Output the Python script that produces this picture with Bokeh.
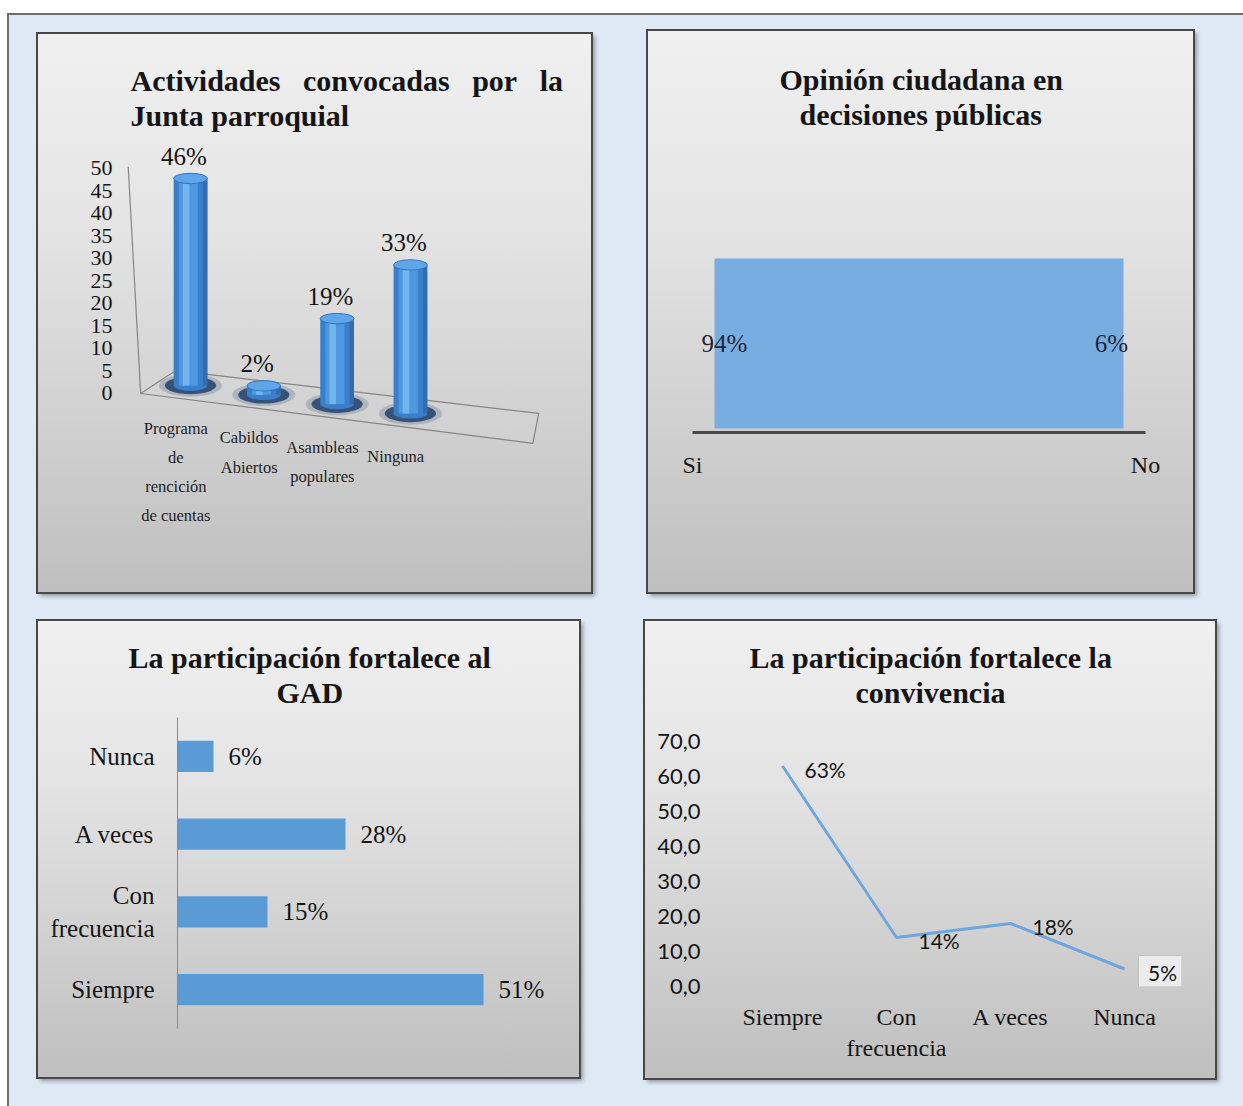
import numpy as np
from bokeh.plotting import figure
from bokeh.models import FixedTicker, Title, Range1d
from bokeh.layouts import row, column
from bokeh.core.properties import value
from bokeh.embed import file_html
from bokeh.resources import INLINE

# ------------------------------------------------------------------ data
act_title = ["Actividades\u00a0\u00a0\u00a0convocadas\u00a0\u00a0\u00a0por\u00a0\u00a0\u00a0la", "Junta parroquial"]
act_categories = ["Programa\nde\nrencición\nde cuentas", "Cabildos\nAbiertos", "Asambleas\npopulares", "Ninguna"]
act_values = [46, 2, 19, 33]
act_yticks = [0, 5, 10, 15, 20, 25, 30, 35, 40, 45, 50]

op_title = ["Opinión ciudadana en", "decisiones públicas"]
op_categories = ["Si", "No"]
op_values = [94, 6]

gad_title = ["La participación fortalece al", "GAD"]
gad_categories = ["Siempre", "Con\nfrecuencia", "A veces", "Nunca"]
gad_values = [51, 15, 28, 6]

conv_title = ["La participación fortalece la", "convivencia"]
conv_categories = ["Siempre", "Con\nfrecuencia", "A veces", "Nunca"]
conv_values = [63, 14, 18, 5]
conv_yticks = [0, 10, 20, 30, 40, 50, 60, 70]

# ------------------------------------------------------------------ styling
SERIF = "Liberation Serif"
SANS = "Lato"
TXT = "#151515"
PANEL_STYLE = {
    "background": "linear-gradient(180deg, #f0f0f0 0%, #e4e4e4 35%, #bfbfbf 100%)",
    "box-shadow": "0 0 0 2px #474747, 3px 3px 4px 1px rgba(0,0,0,0.35)",
}


def make_panel(w, h, xr, yr, top, right, bottom, left):
    p = figure(width=w, height=h, x_range=xr, y_range=yr, title=None,
               output_backend="svg", toolbar_location=None,
               min_border_top=top, min_border_right=right,
               min_border_bottom=bottom, min_border_left=left,
               border_fill_color=None, background_fill_color=None,
               outline_line_color=None, styles=PANEL_STYLE, frame_align=False)
    p.xgrid.visible = False
    p.ygrid.visible = False
    return p


def add_title(p, lines, offsets):
    # the line added first sits closest to the frame
    for line, off in reversed(list(zip(lines, offsets))):
        p.add_layout(Title(text=line, align="left", offset=off,
                           text_font=SERIF, text_font_style="bold",
                           text_font_size="30px", text_color=TXT,
                           standoff=0), "above")


def plain_axis(ax, font, size, standoff):
    ax.axis_line_color = None
    ax.major_tick_line_color = None
    ax.minor_tick_line_color = None
    ax.major_label_text_font = font
    ax.major_label_text_font_size = size
    ax.major_label_text_color = TXT
    ax.major_label_standoff = standoff


# ------------------------------------------------------------------ panel 1 : 3-D cylinders
n1 = len(act_values)
xi = np.arange(n1)
base = 1.78 - 2.07 * xi              # perspective drop of the floor
tops = base + np.array(act_values)

p1 = make_panel(553, 558, Range1d(-0.955, 5.184), Range1d(-33.78, 58.22), 97, 21, 47, 82)
add_title(p1, act_title, [10, 10])
p1.xaxis.visible = False
p1.yaxis.ticker = FixedTicker(ticks=act_yticks)
plain_axis(p1.yaxis[0], SERIF, "22px", 2)

# floor and slanted wall edge
fr = n1 - 1 + 1.67
p1.patch([-0.68, -0.2, n1 - 1 + 1.75, fr], [0, 5.1, -4.44, -2.07 * (fr + 0.68)],
         fill_color="#d8d8d8", fill_alpha=0.25, line_color="#858585", line_width=1.2)
p1.line([-0.85, -0.68], [max(act_yticks) + 0.4, 0], line_color="#858585", line_width=1.2)

# shadows
p1.ellipse(xi, base, width=0.86, height=5.0, fill_color="#6b7c94", fill_alpha=0.35, line_color=None)
p1.ellipse(xi, base, width=0.70, height=3.9, fill_color="#22406b", fill_alpha=0.85, line_color=None)
# cylinder bodies
p1.ellipse(xi, base, width=0.46, height=2.3, fill_color="#3a7fc9", line_color=None)
p1.vbar(x=xi, width=0.46, bottom=base, top=tops, fill_color="#3a7fc9", line_color=None)
p1.vbar(x=xi - 0.03, width=0.26, bottom=base, top=tops, fill_color="#4f98e0", line_color=None)
p1.vbar(x=xi - 0.06, width=0.09, bottom=base, top=tops, fill_color="#72b6f0", line_color=None)
p1.vbar(x=xi + 0.2, width=0.06, bottom=base, top=tops, fill_color="#2f6cb0", line_color=None)
p1.ellipse(xi, tops, width=0.46, height=2.3, fill_color="#5ea6e9", line_color="#3474bd", line_width=1)
# value labels
p1.text(xi - 0.09, tops + 4.9, text=[f"{v}%" for v in act_values], text_align="center",
        text_baseline="middle", text_font=value(SERIF), text_font_size="25px", text_color=TXT)
# category labels (stepped along the floor)
lx, ly, lt = [], [], []
for i, cat in enumerate(act_categories):
    for k, line in enumerate(cat.split("\n")):
        lx.append(i - 0.2)
        ly.append(base[i] - 9.6 - 6.45 * k)
        lt.append(line)
p1.text(lx, ly, text=lt, text_align="center", text_baseline="middle",
        text_font=value(SERIF), text_font_size="16.5px", text_color="#222222")

# ------------------------------------------------------------------ panel 2 : 100 % area
op_pct = [v / v * 100 for v in op_values]
op_x = list(range(len(op_categories)))
inset = 0.0486
p2 = make_panel(545, 561, Range1d(0, 1), Range1d(-2.35, 175.3), 99, 48, 160, 44)
add_title(p2, op_title, [87, 107])
p2.yaxis.visible = False
p2.varea(x=[op_x[0] + inset, op_x[-1] - inset], y1=[0, 0], y2=op_pct,
         fill_color="#78ade2", fill_alpha=1.0)
p2.text(op_x, [v / 2 for v in op_pct], text=[f"{v}%" for v in op_values],
        x_offset=[32, -34], text_align="center", text_baseline="middle",
        text_font=value(SERIF), text_font_size="25px", text_color="#1c2633")
p2.xaxis.ticker = FixedTicker(ticks=op_x)
p2.xaxis.major_label_overrides = {x: c for x, c in zip(op_x, op_categories)}
plain_axis(p2.xaxis[0], SERIF, "24px", 13)
p2.xaxis.axis_line_color = "#4a4a4a"
p2.xaxis.axis_line_width = 3

# ------------------------------------------------------------------ panel 3 : horizontal bars
gy = list(range(len(gad_categories)))
p3 = make_panel(541, 456, Range1d(0, 63.83), Range1d(-0.5, 3.616), 87, 19, 49, 139)
add_title(p3, gad_title, [-49, 99])
p3.xaxis.visible = False
p3.hbar(y=gy, right=gad_values, left=0, height=0.4,
        fill_color="#5b9bd5", line_color=None)
p3.text(gad_values, gy, text=[f"{v}%" for v in gad_values], x_offset=15,
        text_align="left", text_baseline="middle",
        text_font=value(SERIF), text_font_size="25px", text_color=TXT)
p3.yaxis.ticker = FixedTicker(ticks=gy)
p3.yaxis.major_label_overrides = {y: c for y, c in zip(gy, gad_categories)}
plain_axis(p3.yaxis[0], SERIF, "25px", 17)
p3.yaxis.axis_line_color = "#8a8a8a"
p3.yaxis.axis_line_width = 1
p3.yaxis.bounds = (gy[0] - 0.5, gy[-1] + 0.5)

# ------------------------------------------------------------------ panel 4 : line
cx = list(range(len(conv_categories)))
p4 = make_panel(570, 457, Range1d(-0.5, 3.5), Range1d(0, 79.43), 87, 34, 92, 80)
add_title(p4, conv_title, [24, 130])
p4.line(cx, conv_values, line_color="#6ea6de", line_width=3)
p4.text(cx[:-1], conv_values[:-1], text=[f"{v}%" for v in conv_values[:-1]],
        x_offset=22, y_offset=3, text_align="left", text_baseline="middle",
        text_font=value(SANS), text_font_size="21px", text_color=TXT)
# callout box for the last label
bx = cx[-1] + 38 / 114
by = conv_values[-1] - 3 / 3.5
p4.rect([bx + 3 / 114], [by - 3 / 3.5], width=48, height=33, width_units="screen",
        height_units="screen", fill_color="#7a7a7a", fill_alpha=0.45, line_color=None)
p4.rect([bx], [by], width=48, height=33, width_units="screen", height_units="screen",
        fill_color="#ececec", line_color="#c4c4c4", line_width=1)
p4.text([bx], [by], text=[f"{conv_values[-1]}%"], text_align="center", text_baseline="middle",
        text_font=value(SANS), text_font_size="21px", text_color=TXT)
p4.xaxis.ticker = FixedTicker(ticks=cx)
p4.xaxis.major_label_overrides = {x: c for x, c in zip(cx, conv_categories)}
plain_axis(p4.xaxis[0], SERIF, "24px", 11)
p4.yaxis.ticker = FixedTicker(ticks=conv_yticks)
p4.yaxis.major_label_overrides = {t: f"{t:.1f}".replace(".", ",") for t in conv_yticks}
plain_axis(p4.yaxis[0], SANS, "22px", 19)

# ------------------------------------------------------------------ page layout
p1.margin = (21, 0, 0, 31)
p2.margin = (18, 0, 0, 57)
p3.margin = (29, 0, 0, 31)
p4.margin = (29, 0, 0, 66)

page = column(row(p1, p2), row(p3, p4), width=1236, height=1093, margin=(13, 0, 0, 7),
              styles={"background-color": "#dee9f5",
                      "box-shadow": "inset 2px 2px 0 0 #6e6e6e"})

open("out.html", "w").write(file_html(page, INLINE, title="Participación ciudadana"))
